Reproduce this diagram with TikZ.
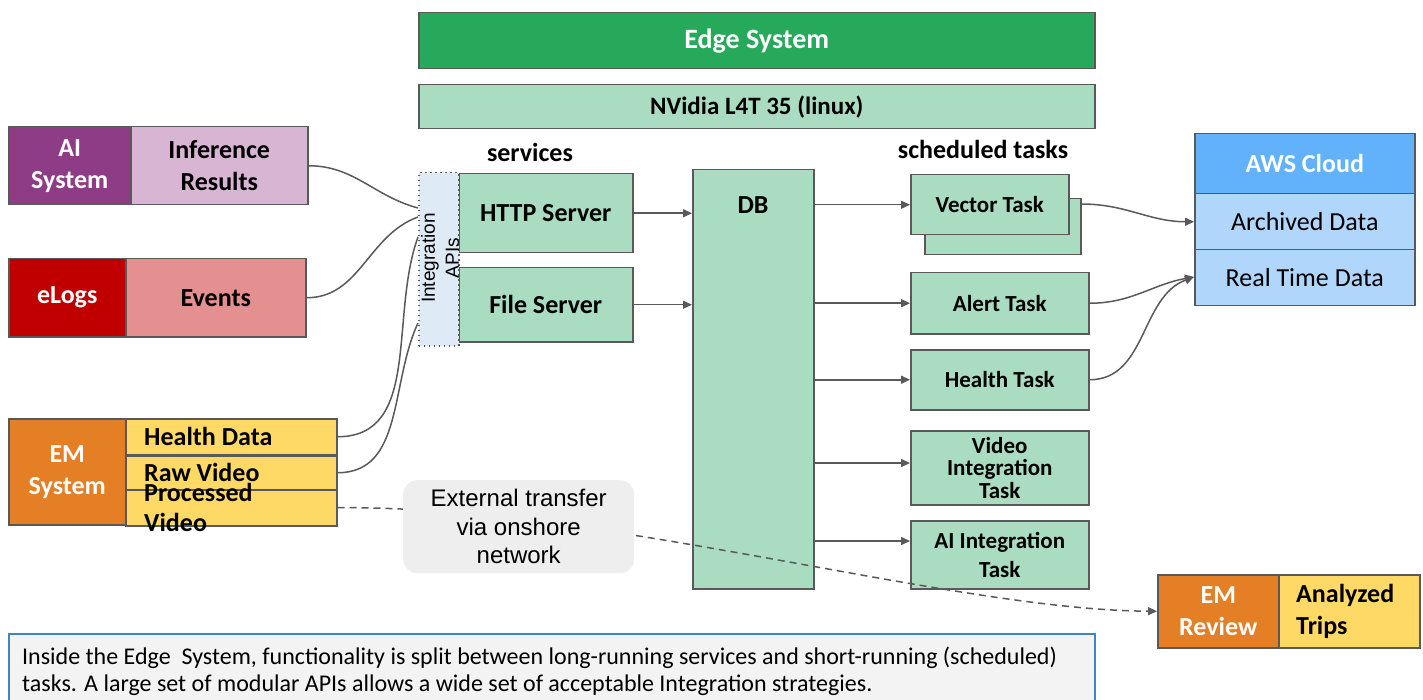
\documentclass[tikz,border=0pt]{standalone}
\usepackage{fontspec}
\setmainfont{Carlito}
\newfontfamily\arialf{Liberation Sans}
\usetikzlibrary{arrows.meta,calc}
\definecolor{lc}{HTML}{595959}
\definecolor{edgegreen}{HTML}{27A95B}
\definecolor{lgreen}{HTML}{A9DCC0}
\definecolor{apiblue}{HTML}{DEEBF7}
\definecolor{awsblue}{HTML}{62B1FB}
\definecolor{lblue}{HTML}{B1D6FC}
\definecolor{purp}{HTML}{8E3C86}
\definecolor{pink}{HTML}{D7B5D3}
\definecolor{dred}{HTML}{C00000}
\definecolor{salmon}{HTML}{E49090}
\definecolor{orng}{HTML}{E57F25}
\definecolor{yel}{HTML}{FFD966}
\definecolor{extgray}{HTML}{EEEEEE}
\definecolor{botfill}{HTML}{F3F3F3}
\definecolor{botline}{HTML}{3D85C6}
\begin{document}
\begin{tikzpicture}[x=1pt,y=-1pt,
  bx/.style={draw=lc, line width=1.5pt, inner sep=0pt, anchor=north west, align=center,
    font=\fontsize{26}{32}\selectfont\bfseries},
  tbx/.style={bx, fill=lgreen, minimum width=178pt, font=\fontsize{23}{28}\selectfont\bfseries},
  lbl/.style={inner sep=0pt, align=center, font=\fontsize{26}{32}\selectfont\bfseries},
  lline/.style={draw=lc, line width=1.5pt},
  conn/.style={draw=lc, line width=1.5pt, -{Triangle[length=9pt,width=8pt]}}
]
\useasboundingbox (0,0) rectangle (1423,700);

% top bars
\node[bx, fill=edgegreen, text=white, minimum width=676pt, minimum height=56pt,
  font=\fontsize{28}{34}\selectfont\bfseries] (edge) at (418,12) {Edge System};
\node[bx, fill=lgreen, minimum width=676pt, minimum height=44pt,
  font=\fontsize{25}{30}\selectfont\bfseries] (nv) at (418,84) {NVidia L4T 35 (linux)};

\node[lbl] (serv) at (530,152) {services};
\node[lbl] (sched) at (983,149) {scheduled tasks};

% services
\node[bx, fill=lgreen, minimum width=174pt, minimum height=79pt] (http) at (458,173) {HTTP Server};
\node[bx, fill=lgreen, minimum width=174pt, minimum height=74pt] (file) at (458,267) {File Server};
\node[bx, draw=lc, dash pattern=on 1.5pt off 3.5pt, fill=apiblue, minimum width=40pt, minimum height=173pt] (api) at (418,172) {};
\node[inner sep=0pt, rotate=90, align=center, font=\arialf\fontsize{19}{24}\selectfont] (apit) at (440,258) {Integration\\APIs};

% DB
\node[bx, fill=lgreen, minimum width=121pt, minimum height=419pt] (db) at (692,169) {};
\node[lbl] (dbt) at (753,205) {DB};

% tasks
\node[bx, fill=lgreen, minimum width=156pt, minimum height=56pt] (vecback) at (924,198) {};
\node[tbx, minimum width=158pt, minimum height=60pt] (vec) at (910,174) {Vector Task};
\node[tbx, minimum height=61pt] (alert) at (910,272) {Alert Task};
\node[tbx, minimum height=60pt] (health) at (910,349) {Health Task};
\node[tbx, minimum height=74pt, font=\fontsize{23}{22.5}\selectfont\bfseries] (video) at (910,430) {Video\\Integration\\Task};
\node[tbx, minimum height=68pt, font=\fontsize{23}{29}\selectfont\bfseries] (ai) at (910,520) {AI Integration\\Task};

% AWS
\node[bx, fill=awsblue, text=white, minimum width=220pt, minimum height=60pt] (aws) at (1194,133) {AWS Cloud};
\node[bx, fill=lblue, minimum width=220pt, minimum height=56pt, font=\fontsize{26}{32}\selectfont] (arch) at (1194,193) {Archived Data};
\node[bx, fill=lblue, minimum width=220pt, minimum height=56pt, font=\fontsize{26}{32}\selectfont] (rt) at (1194,249) {Real Time Data};

% left systems
\node[bx, fill=purp, text=white, minimum width=122pt, minimum height=78pt] (aisys) at (8,126) {AI\\System};
\node[bx, fill=pink, minimum width=177pt, minimum height=78pt] (infres) at (130,126) {Inference\\Results};
\node[bx, fill=dred, text=white, minimum width=117pt, minimum height=78pt] (elogs) at (8,258) {eLogs};
\node[bx, fill=salmon, minimum width=180pt, minimum height=78pt] (events) at (125,258) {Events};
\node[bx, fill=orng, text=white, minimum width=117pt, minimum height=106pt] (emsys) at (8,418) {EM\\System};
\node[bx, fill=yel, minimum width=211pt, minimum height=36pt] (hd) at (125,418) {};
\node[bx, fill=yel, minimum width=211pt, minimum height=34pt] (rv) at (125,455) {};
\node[bx, fill=yel, minimum width=211pt, minimum height=36pt] (pv) at (125,489) {};
\node[lbl, anchor=west, align=left] (hdt) at ($(hd.west)+(19,0)$) {Health Data};
\node[lbl, anchor=west, align=left] (rvt) at ($(rv.west)+(19,0)$) {Raw Video};
\node[lbl, anchor=west, align=left, font=\fontsize{26}{30}\selectfont\bfseries] (pvt) at ($(pv.west)+(19,0)$) {Processed\\Video};

% EM review
\node[bx, fill=orng, text=white, minimum width=121pt, minimum height=73pt] (emr) at (1157,574) {EM\\Review};
\node[bx, fill=yel, minimum width=141pt, minimum height=73pt] (atr) at (1278,574) {};
\node[lbl, anchor=west, align=left] (atrt) at ($(atr.west)+(18,0)$) {Analyzed\\Trips};

% connectors into APIs
\coordinate (apiA) at ($(api.north west)+(0,36)$);
\coordinate (apiB) at ($(api.north west)+(0,45)$);
\coordinate (apiC) at ($(api.north west)+(0,65)$);
\coordinate (apiD) at ($(api.north west)+(0,151)$);
\draw[lline] (infres.east) to[out=0,in=165] (apiA);
\draw[lline] (events.east) to[out=0,in=200] (apiB);
\draw[lline] (hd.east) to[out=0,in=250] (apiC);
\draw[lline] (rv.east) to[out=0,in=245] (apiD);

% services to DB
\draw[conn] (http.east) -- (http.east -| db.west);
\draw[conn] (file.east) -- (file.east -| db.west);

% DB to tasks
\draw[conn] (db.east |- vec.west) -- (vec.west);
\draw[conn] (db.east |- alert.west) -- (alert.west);
\draw[conn] (db.east |- health.west) -- (health.west);
\draw[conn] ($(db.east |- video.north)+(0,33)$) -- ($(video.north west)+(0,33)$);
\draw[conn] ($(db.east |- ai.north)+(0,21)$) -- ($(ai.north west)+(0,21)$);

% tasks to AWS
\coordinate (vecout) at ($(vecback.north east)+(0,6)$);
\coordinate (archin) at ($(arch.west)+(0,0)$);
\coordinate (rtin) at ($(rt.north west)+(0,28)$);
\draw[conn] (vecout) to[out=0,in=180] (archin);
\draw[conn] (alert.east) to[out=0,in=190] (rtin);
\draw[conn] (health.east) to[out=0,in=200] (rtin);

% dashed transfer
\draw[conn, dash pattern=on 7pt off 5pt] (pv.east) .. controls (600,505) and (950,610) .. (emr.west);
\node[inner sep=0pt, fill=extgray, rounded corners=14pt, minimum width=231pt, minimum height=93pt,
  anchor=north west] (ext) at (403,480) {};
\node[inner sep=0pt, align=center, font=\arialf\fontsize{24}{28.5}\selectfont] (extt) at (ext.center) {External transfer\\via onshore\\network};

% bottom note
\node[draw=botline, line width=1.5pt, fill=botfill, anchor=north west, minimum width=1086pt,
  minimum height=80pt, inner sep=0pt] (note) at (8,633) {};
\node[anchor=west, align=left, inner sep=0pt, font=\fontsize{24}{27}\selectfont] (notet) at (22,671)
  {Inside the Edge\ \ System, functionality is split between long-running services and short-running (scheduled)\\
   tasks. A large set of modular APIs allows a wide set of acceptable Integration strategies.};
\end{tikzpicture}
\end{document}
